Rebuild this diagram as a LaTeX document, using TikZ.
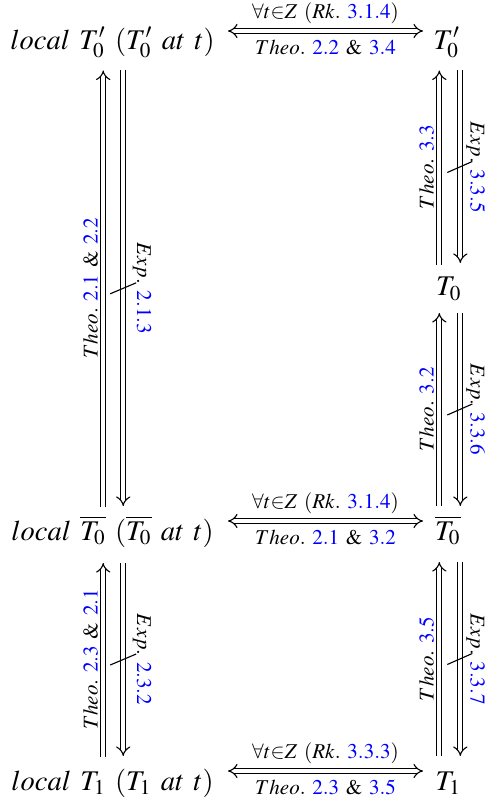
\documentclass[tikz,border=0pt]{standalone}
\usepackage{mathptmx}
\usepackage[no-math]{fontspec}
\setmainfont{Liberation Serif}
\usetikzlibrary{arrows.meta}
\newcommand{\wsp}{\hspace{0.32em}}
\begin{document}
\begin{tikzpicture}[x=0.3612pt,y=-0.3612pt,
  obj/.style={font=\fontsize{10.3}{12}\selectfont, inner sep=0pt, anchor=base},
  lbl/.style={font=\fontsize{7.6}{8}\selectfont, inner sep=0pt, anchor=base},
  dbl/.style={double, line width=0.4pt, double distance=1.4pt, -{Implies[scale=1.35]}},
  dblboth/.style={double, line width=0.4pt, double distance=1.4pt, {Implies[scale=1.35]}-{Implies[scale=1.35]}},
  slashmark/.style={line width=0.4pt}]
\useasboundingbox (0,0) rectangle (486,803);
% objects
\node[obj] (A) at (112.5,49.3) {$local\wsp T'_0\wsp (T'_0\wsp at\wsp t)$};
\node[obj] (B) at (447,49.3) {$T'_0$};
\node[obj] (C) at (449,296) {$T_0$};
\node[obj] (E) at (112.5,540) {$local\wsp \overline{T_0}\wsp (\overline{T_0}\wsp at\wsp t)$};
\node[obj] (D) at (448,540) {$\overline{T_0}$};
\node[obj] (F) at (112.5,790) {$local\wsp T_1\wsp (T_1\wsp at\wsp t)$};
\node[obj] (G) at (448.5,790) {$T_1$};
% horizontal arrows
\coordinate (h1l) at (228,31);  \coordinate (h1r) at (423,31);
\coordinate (h2l) at (228,521); \coordinate (h2r) at (423,521);
\coordinate (h3l) at (228,771); \coordinate (h3r) at (423,771);
\draw[dblboth] (h1l) -- (h1r);
\draw[dblboth] (h2l) -- (h2r);
\draw[dblboth] (h3l) -- (h3r);
\node[lbl] (l1a) at (325.5,18.3) {$\forall t{\in}Z\wsp (Rk.\wsp {\color{blue}3.1.4})$};
\node[lbl] (l1b) at (325.5,54.5) {$Theo.\wsp {\color{blue}2.2}\wsp \&\wsp {\color{blue}3.4}$};
\node[lbl] (l2a) at (325.5,508.3) {$\forall t{\in}Z\wsp (Rk.\wsp {\color{blue}3.1.4})$};
\node[lbl] (l2b) at (325.5,544.5) {$Theo.\wsp {\color{blue}2.1}\wsp \&\wsp {\color{blue}3.2}$};
\node[lbl] (l3a) at (325.5,758.3) {$\forall t{\in}Z\wsp (Rk.\wsp {\color{blue}3.3.3})$};
\node[lbl] (l3b) at (325.5,794.5) {$Theo.\wsp {\color{blue}2.3}\wsp \&\wsp {\color{blue}3.5}$};
% left column, segment 1
\coordinate (a1) at (103.2,507); \coordinate (a2) at (103.2,70.5);
\coordinate (a3) at (123.2,70);  \coordinate (a4) at (123.2,506);
\draw[dbl] (a1) -- (a2);
\draw[dbl] (a3) -- (a4);
\node[lbl,rotate=90] (t1) at (97.5,288.3) {$Theo.\wsp {\color{blue}2.1}\wsp \&\wsp {\color{blue}2.2}$};
\node[lbl,rotate=-90] (e1) at (137,288.3) {$Exp.\wsp {\color{blue}2.1.3}$};
\coordinate (s1a) at (110.2,293.8); \coordinate (s1b) at (136.2,282.8);
\draw[slashmark] (s1a) -- (s1b);
% left column, segment 2
\coordinate (b1) at (103.2,757); \coordinate (b2) at (103.2,563);
\coordinate (b3) at (123.2,563); \coordinate (b4) at (123.2,756);
\draw[dbl] (b1) -- (b2);
\draw[dbl] (b3) -- (b4);
\node[lbl,rotate=90] (t2) at (97.5,659.5) {$Theo.\wsp {\color{blue}2.3}\wsp \&\wsp {\color{blue}2.1}$};
\node[lbl,rotate=-90] (e2) at (137,659.5) {$Exp.\wsp {\color{blue}2.3.2}$};
\coordinate (s2a) at (110.2,665); \coordinate (s2b) at (136.2,654);
\draw[slashmark] (s2a) -- (s2b);
% right column, segment 1
\coordinate (c1) at (439.3,265); \coordinate (c2) at (439.3,70.5);
\coordinate (c3) at (460.3,70);  \coordinate (c4) at (460.3,263);
\draw[dbl] (c1) -- (c2);
\draw[dbl] (c3) -- (c4);
\node[lbl,rotate=90] (t3) at (433.5,167) {$Theo.\wsp {\color{blue}3.3}$};
\node[lbl,rotate=-90] (e3) at (470.5,167) {$Exp.\wsp {\color{blue}3.3.5}$};
\coordinate (s3a) at (447.3,172.5); \coordinate (s3b) at (472.3,161.5);
\draw[slashmark] (s3a) -- (s3b);
% right column, segment 2
\coordinate (d1) at (439.3,506); \coordinate (d2) at (439.3,313);
\coordinate (d3) at (460.3,313); \coordinate (d4) at (460.3,506);
\draw[dbl] (d1) -- (d2);
\draw[dbl] (d3) -- (d4);
\node[lbl,rotate=90] (t4) at (433.5,409.5) {$Theo.\wsp {\color{blue}3.2}$};
\node[lbl,rotate=-90] (e4) at (470.5,409.5) {$Exp.\wsp {\color{blue}3.3.6}$};
\coordinate (s4a) at (447.3,415); \coordinate (s4b) at (472.3,404);
\draw[slashmark] (s4a) -- (s4b);
% right column, segment 3
\coordinate (f1) at (439.3,756); \coordinate (f2) at (439.3,562);
\coordinate (f3) at (460.3,562); \coordinate (f4) at (460.3,756);
\draw[dbl] (f1) -- (f2);
\draw[dbl] (f3) -- (f4);
\node[lbl,rotate=90] (t5) at (433.5,659) {$Theo.\wsp {\color{blue}3.5}$};
\node[lbl,rotate=-90] (e5) at (470.5,659) {$Exp.\wsp {\color{blue}3.3.7}$};
\coordinate (s5a) at (447.3,664.5); \coordinate (s5b) at (472.3,653.5);
\draw[slashmark] (s5a) -- (s5b);
\end{tikzpicture}
\end{document}
